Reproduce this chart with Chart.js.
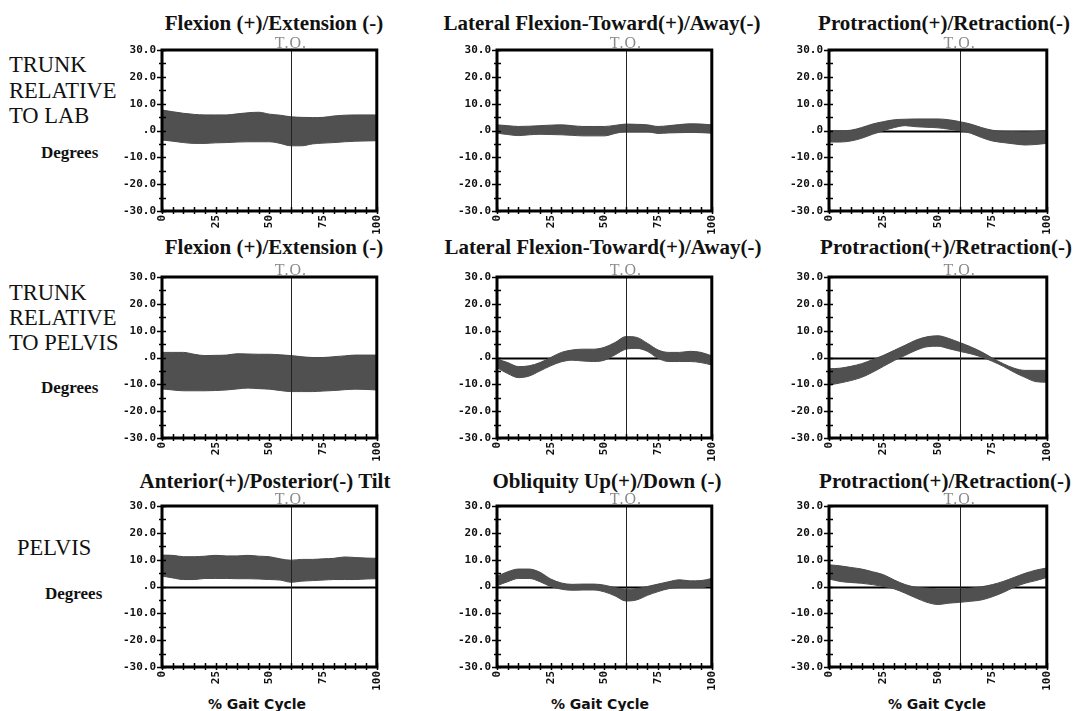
<!DOCTYPE html>
<html>
<head>
<meta charset="utf-8">
<script src="https://cdn.jsdelivr.net/npm/chart.js@4.4.1/dist/chart.umd.min.js"></script>
<style>
  html, body { margin: 0; padding: 0; background: #fff; }
  body { width: 1080px; height: 711px; position: relative; overflow: hidden; }
  .c { position: absolute; white-space: nowrap; line-height: 1; transform: translate(-50%, -50%); }
  .l { position: absolute; white-space: nowrap; line-height: 1; transform: translateY(-50%); }
  .title { font: bold 21px "Liberation Serif", serif; color: #111; }
  .row { font: 22.5px "Liberation Serif", serif; color: #111; }
  .deg { font: bold 17px "Liberation Serif", serif; color: #111; }
  .to { font: 16px "Liberation Serif", serif; color: #8a8a8a; letter-spacing: 1px; }
  .gait { font: bold 14px "DejaVu Sans", sans-serif; color: #111; }
  .wrap { position: absolute; }
</style>
</head>
<body>

<!-- column titles -->
<div class="c title" style="left:274px;top:23px">Flexion (+)/Extension (-)</div>
<div class="c title" style="left:602px;top:23px">Lateral Flexion-Toward(+)/Away(-)</div>
<div class="c title" style="left:944px;top:23px">Protraction(+)/Retraction(-)</div>
<div class="c title" style="left:274px;top:247px">Flexion (+)/Extension (-)</div>
<div class="c title" style="left:603px;top:247px">Lateral Flexion-Toward(+)/Away(-)</div>
<div class="c title" style="left:946px;top:247px">Protraction(+)/Retraction(-)</div>
<div class="c title" style="left:265px;top:481px">Anterior(+)/Posterior(-) Tilt</div>
<div class="c title" style="left:607px;top:481px">Obliquity Up(+)/Down (-)</div>
<div class="c title" style="left:945px;top:481px">Protraction(+)/Retraction(-)</div>

<!-- row labels -->
<div class="l row" style="left:9px;top:65px">TRUNK</div>
<div class="l row" style="left:9px;top:91px">RELATIVE</div>
<div class="l row" style="left:9px;top:116px">TO LAB</div>
<div class="l deg" style="left:41px;top:153px">Degrees</div>

<div class="l row" style="left:9px;top:293px">TRUNK</div>
<div class="l row" style="left:9px;top:318px">RELATIVE</div>
<div class="l row" style="left:9px;top:343px">TO PELVIS</div>
<div class="l deg" style="left:41px;top:388px">Degrees</div>

<div class="l row" style="left:17px;top:548px">PELVIS</div>
<div class="l deg" style="left:45px;top:594px">Degrees</div>

<!-- x axis captions -->
<div class="c gait" style="left:257px;top:704px">% Gait Cycle</div>
<div class="c gait" style="left:600px;top:704px">% Gait Cycle</div>
<div class="c gait" style="left:937px;top:704px">% Gait Cycle</div>

<script>
// % gait cycle sample points
const pct = [0, 5, 10, 15, 20, 25, 30, 35, 40, 45, 50, 55, 60, 65, 70, 75, 80, 85, 90, 95, 100];
// toe-off, % of gait cycle
const toeOff = 60;

// axis ticks and their printed labels
const yTicks = [-30, -20, -10, 0, 10, 20, 30];
const yTickText = ['-30.0', '-20.0', '-10.0', '.0', '10.0', '20.0', '30.0'];
const xTicks = [0, 25, 50, 75, 100];
const xTickText = ['0', '25', '50', '75', '100'];

// normal band (upper / lower limits, degrees)
// trunk relative to lab
const trunkLabFlexUpper = [7.6, 7.0, 6.4, 6.0, 5.8, 5.8, 5.8, 6.2, 6.6, 6.8, 6.1, 5.7, 5.1, 4.9, 4.8, 4.9, 5.4, 5.7, 5.8, 5.8, 5.8];
const trunkLabFlexLower = [-3.5, -4.0, -4.5, -4.8, -4.8, -4.6, -4.5, -4.3, -4.2, -4.2, -4.2, -4.8, -5.7, -5.7, -5.0, -4.7, -4.5, -4.2, -4.0, -3.9, -3.8];
const trunkLabLatUpper = [2.1, 1.8, 1.5, 1.6, 1.8, 2.0, 2.1, 1.8, 1.5, 1.5, 1.5, 1.9, 2.4, 2.3, 2.1, 1.5, 1.8, 2.2, 2.5, 2.4, 2.1];
const trunkLabLatLower = [-1.0, -1.5, -1.9, -1.6, -1.4, -1.5, -1.6, -1.8, -2.0, -2.0, -2.0, -1.1, -0.4, -0.4, -0.4, -1.1, -0.9, -0.8, -0.7, -0.8, -1.0];
const trunkLabProtUpper = [0.0, -0.1, 0.1, 1.1, 2.4, 3.3, 4.0, 4.2, 4.3, 4.3, 4.3, 4.0, 3.3, 2.4, 1.1, 0.1, -0.3, -0.4, -0.5, -0.3, 0.1];
const trunkLabProtLower = [-4.3, -4.3, -3.9, -2.9, -1.4, -0.1, 1.1, 1.8, 1.4, 1.2, 1.0, 0.5, -0.1, -1.0, -2.6, -3.9, -4.5, -5.0, -5.4, -5.2, -4.8];

// trunk relative to pelvis
const trunkPelFlexUpper = [1.9, 1.9, 1.9, 1.2, 0.7, 0.8, 0.9, 1.4, 1.3, 1.2, 1.2, 1.0, 0.7, 0.3, 0.0, 0.0, 0.3, 0.6, 0.9, 0.9, 0.9];
const trunkPelFlexLower = [-11.7, -12.1, -12.4, -12.4, -12.4, -12.3, -12.1, -11.7, -11.4, -11.6, -11.8, -12.3, -12.7, -12.7, -12.7, -12.5, -12.3, -12.0, -11.8, -11.9, -12.1];
const trunkPelLatUpper = [-0.6, -1.9, -3.4, -3.1, -1.9, 0.0, 1.9, 2.8, 3.1, 3.1, 3.8, 5.6, 7.8, 7.5, 5.3, 2.8, 1.9, 1.9, 2.3, 1.9, 0.6];
const trunkPelLatLower = [-3.8, -6.0, -7.5, -6.9, -5.0, -3.1, -1.6, -1.0, -1.3, -1.5, -1.0, 1.0, 3.1, 3.4, 2.3, -0.3, -1.5, -1.5, -1.5, -1.9, -2.8];
const trunkPelProtUpper = [-4.2, -4.0, -3.3, -2.3, -0.8, 0.8, 2.7, 4.6, 6.5, 7.7, 8.1, 7.1, 5.6, 4.0, 2.1, -0.2, -2.3, -4.0, -4.8, -4.8, -4.8];
const trunkPelProtLower = [-10.3, -9.5, -8.6, -7.4, -5.5, -3.3, -1.1, 0.8, 2.7, 4.0, 4.2, 3.3, 2.3, 1.4, 0.2, -1.4, -3.3, -5.5, -7.4, -9.0, -9.2];

// pelvis
const pelvisTiltUpper = [11.7, 11.6, 11.1, 11.1, 11.3, 11.6, 11.4, 11.4, 11.6, 11.3, 11.1, 10.3, 9.8, 10.1, 10.1, 10.3, 10.5, 11.0, 10.8, 10.6, 10.5];
const pelvisTiltLower = [3.9, 3.2, 2.6, 2.6, 3.0, 3.0, 3.0, 2.9, 2.9, 2.8, 2.6, 2.4, 1.6, 2.0, 2.2, 2.4, 2.6, 2.6, 2.6, 2.8, 2.9];
const pelvisObliqUpper = [3.8, 5.5, 6.5, 6.5, 5.3, 2.8, 1.3, 0.8, 0.9, 0.9, 0.5, -0.4, -1.0, -0.8, 0.0, 0.9, 1.8, 2.5, 2.1, 2.2, 3.0];
const pelvisObliqLower = [0.3, 1.8, 3.0, 3.0, 1.8, 0.0, -1.0, -1.4, -1.3, -1.3, -2.0, -3.5, -5.4, -5.0, -3.3, -1.9, -0.8, -0.4, -0.4, -0.4, 0.3];
const pelvisProtUpper = [8.1, 7.7, 7.1, 6.5, 5.5, 4.4, 2.4, 0.7, -0.3, -0.6, -0.9, -0.9, -0.9, -0.6, -0.1, 0.7, 1.9, 3.4, 4.9, 6.1, 6.9];
const pelvisProtLower = [2.8, 1.9, 1.5, 1.2, 0.7, 0.0, -0.9, -2.5, -4.3, -5.9, -6.7, -6.2, -5.9, -5.5, -5.0, -3.8, -2.2, -0.3, 1.2, 2.2, 3.4];

// plot-area placement on the page: [left, right], [top, bottom]
const colX = [[162, 377], [497, 712], [829, 1047]];
const rowY = [[50, 211], [277, 438], [506, 667]];

const panels = [
  { r: 0, c: 0, upper: trunkLabFlexUpper, lower: trunkLabFlexLower },
  { r: 0, c: 1, upper: trunkLabLatUpper,  lower: trunkLabLatLower },
  { r: 0, c: 2, upper: trunkLabProtUpper, lower: trunkLabProtLower },
  { r: 1, c: 0, upper: trunkPelFlexUpper, lower: trunkPelFlexLower },
  { r: 1, c: 1, upper: trunkPelLatUpper,  lower: trunkPelLatLower },
  { r: 1, c: 2, upper: trunkPelProtUpper, lower: trunkPelProtLower },
  { r: 2, c: 0, upper: pelvisTiltUpper,   lower: pelvisTiltLower },
  { r: 2, c: 1, upper: pelvisObliqUpper,  lower: pelvisObliqLower },
  { r: 2, c: 2, upper: pelvisProtUpper,   lower: pelvisProtLower }
];

const tickFont = { family: '"DejaVu Sans Mono", monospace', size: 11, weight: 'bold' };

// frame, zero line, toe-off line and crossing tick marks
const framePlugin = {
  id: 'gaitFrame',
  beforeDatasetsDraw(chart) {
    const { ctx, chartArea: a, scales: { y } } = chart;
    const y0 = Math.round(y.getPixelForValue(0)) + 0.5;
    ctx.save();
    ctx.strokeStyle = '#000';
    ctx.lineWidth = 2;
    ctx.beginPath();
    ctx.moveTo(a.left, y0);
    ctx.lineTo(a.right, y0);
    ctx.stroke();
    ctx.restore();
  },
  afterDatasetsDraw(chart) {
    const { ctx, chartArea: a, scales: { x, y } } = chart;
    ctx.save();
    // toe-off marker
    const xt = Math.round(x.getPixelForValue(toeOff)) + 0.5;
    ctx.strokeStyle = '#222';
    ctx.lineWidth = 1;
    ctx.beginPath();
    ctx.moveTo(xt, a.top);
    ctx.lineTo(xt, a.bottom);
    ctx.stroke();
    // box
    ctx.strokeStyle = '#000';
    ctx.lineWidth = 3;
    ctx.strokeRect(a.left, a.top, a.right - a.left, a.bottom - a.top);
    // tick marks crossing the axes every 5 units
    ctx.lineWidth = 1.5;
    ctx.beginPath();
    for (let v = 0; v <= 100; v += 5) {
      const px = Math.round(x.getPixelForValue(v)) + 0.5;
      ctx.moveTo(px, a.bottom - 4);
      ctx.lineTo(px, a.bottom + 3);
    }
    for (let v = -30; v <= 30; v += 5) {
      const py = Math.round(y.getPixelForValue(v)) + 0.5;
      ctx.moveTo(a.left - (v % 10 === 0 ? 5 : 3), py);
      ctx.lineTo(a.left + 4, py);
    }
    ctx.stroke();
    ctx.restore();
  }
};

function makePanel(p) {
  const [x0, x1] = colX[p.c];
  const [y0, y1] = rowY[p.r];
  const wrap = document.createElement('div');
  wrap.className = 'wrap';
  const canvas = document.createElement('canvas');
  canvas.width = (x1 - x0) + 60;
  canvas.height = (y1 - y0) + 44;
  wrap.appendChild(canvas);
  document.body.appendChild(wrap);

  const chart = new Chart(canvas, {
    type: 'line',
    data: {
      labels: pct,
      datasets: [
        {
          data: p.upper.map((v, i) => ({ x: pct[i], y: v })),
          fill: '+1',
          backgroundColor: '#505050',
          borderColor: '#4a4a4a',
          borderWidth: 1,
          pointRadius: 0,
          cubicInterpolationMode: 'monotone'
        },
        {
          data: p.lower.map((v, i) => ({ x: pct[i], y: v })),
          fill: false,
          borderColor: '#4a4a4a',
          borderWidth: 1,
          pointRadius: 0,
          cubicInterpolationMode: 'monotone'
        }
      ]
    },
    options: {
      responsive: false,
      maintainAspectRatio: false,
      animation: false,
      devicePixelRatio: 1,
      layout: { padding: { top: 8, right: 8, left: 2, bottom: 2 } },
      plugins: { legend: { display: false }, tooltip: { enabled: false }, title: { display: false } },
      scales: {
        x: {
          type: 'linear', min: 0, max: 100,
          border: { display: false },
          grid: { display: false, drawTicks: true, tickLength: 3 },
          afterBuildTicks(s) { s.ticks = xTicks.map(v => ({ value: v })); },
          afterFit(s) { s.height = 30; },
          ticks: {
            autoSkip: false, minRotation: 90, maxRotation: 90, padding: 1,
            color: '#111', font: tickFont,
            callback: v => { const i = xTicks.indexOf(v); return i < 0 ? '' : xTickText[i]; }
          }
        },
        y: {
          min: -30, max: 30,
          border: { display: false },
          grid: { display: false, drawTicks: true, tickLength: 5 },
          afterBuildTicks(s) { s.ticks = yTicks.map(v => ({ value: v })); },
          afterFit(s) { s.width = 46; },
          ticks: {
            autoSkip: false, padding: 1,
            color: '#111', font: tickFont,
            callback: v => { const i = yTicks.indexOf(v); return i < 0 ? '' : yTickText[i]; }
          }
        }
      }
    },
    plugins: [framePlugin]
  });

  // size the canvas so the plot area lands exactly on its slot
  for (let k = 0; k < 2; k++) {
    const a = chart.chartArea;
    const w = Math.round(chart.width + (x1 - x0) - (a.right - a.left));
    const h = Math.round(chart.height + (y1 - y0) - (a.bottom - a.top));
    if (w !== chart.width || h !== chart.height) chart.resize(w, h);
  }
  const a = chart.chartArea;
  wrap.style.left = (x0 - a.left) + 'px';
  wrap.style.top = (y0 - a.top) + 'px';

  // toe-off caption above the marker
  const to = document.createElement('div');
  to.className = 'c to';
  to.textContent = 'T.O.';
  to.style.left = (x0 - a.left + chart.scales.x.getPixelForValue(toeOff)) + 'px';
  to.style.top = (y0 - 7) + 'px';
  document.body.appendChild(to);
}

panels.forEach(makePanel);
</script>
</body>
</html>
